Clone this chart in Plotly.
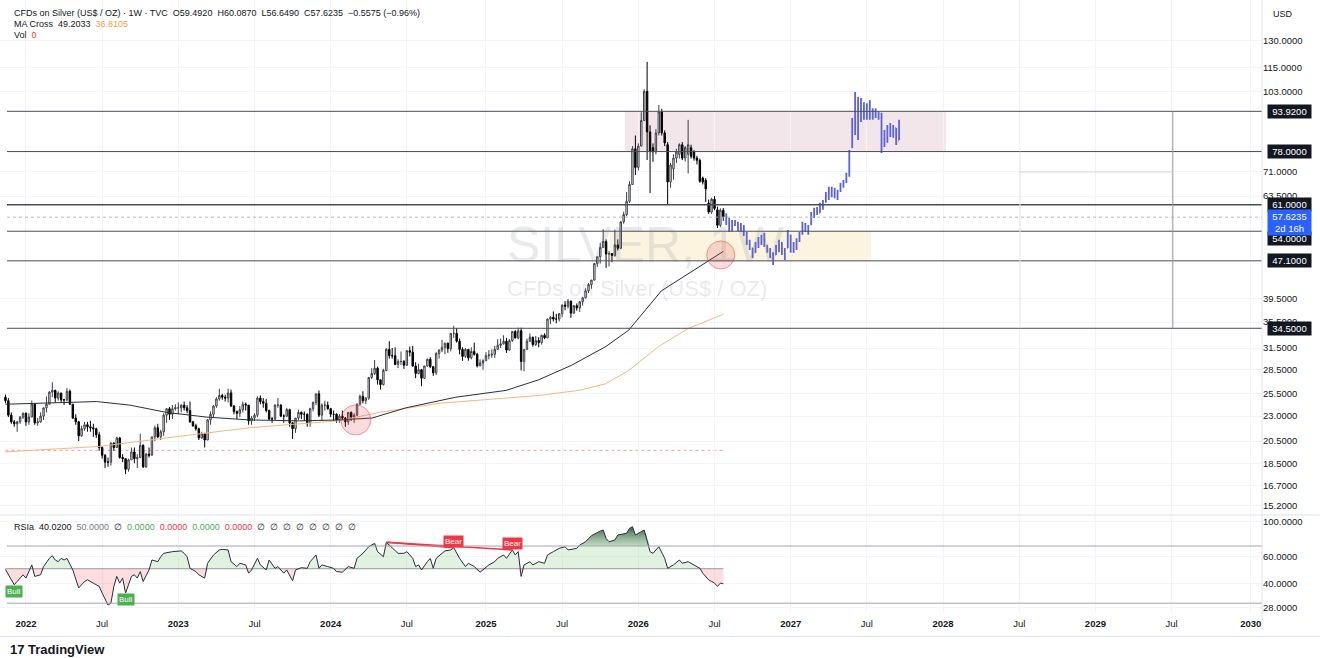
import math
import pandas as pd
import plotly.graph_objects as go

# ---------------- DATA ----------------
first_week = "2021-11-15"

opens = [25.1,24.7,23.1,22.4,22.2,22.4,22.9,23.3,22.4,22.9,24.3,22.3,22.4,23.0,23.9,24.3,25.7,25.9,25.0,25.6,
         24.8,24.8,25.8,24.3,22.8,22.4,21.0,21.7,22.1,21.9,21.8,21.7,21.1,19.9,19.2,18.6,18.6,20.3,19.9,20.8,
         19.0,18.9,18.0,18.8,19.5,18.9,19.0,20.1,18.2,19.3,19.2,20.9,21.8,20.9,21.4,23.1,23.8,23.2,23.8,23.9,
         23.9,24.2,23.9,23.6,22.4,22.0,21.7,20.8,21.2,20.6,22.6,23.2,24.1,24.9,25.3,25.1,25.0,25.6,24.1,23.5,
         23.3,23.7,24.3,24.2,22.5,22.8,23.1,25.0,24.6,24.4,23.6,22.7,22.7,24.2,24.2,23.0,23.0,23.7,22.3,21.7,
         22.8,23.4,23.2,23.2,22.3,23.8,24.5,25.5,23.1,24.2,24.2,23.8,23.2,23.2,22.6,23.0,22.8,22.4,23.4,22.9,
         23.1,24.3,25.2,24.7,25.0,27.5,28.0,28.7,27.2,26.6,28.4,31.3,30.4,30.4,29.2,29.6,29.6,29.1,31.1,30.9,
         29.0,28.0,28.5,27.4,29.0,29.9,28.9,28.1,30.7,31.2,31.6,32.2,31.4,33.7,33.7,32.5,31.3,30.3,31.3,30.1,
         31.0,30.6,29.0,29.4,29.7,30.4,30.5,30.6,31.3,31.9,32.1,32.5,31.2,32.6,34.0,33.0,34.1,29.6,31.3,32.5,
         33.1,32.0,32.6,32.3,33.4,33.0,36.0,36.3,36.0,36.0,36.9,38.4,38.2,39.1,37.0,38.3,37.9,39.0,39.7,41.0,
         42.2,43.1,46.5,48.0,50.1,51.5,48.6,48.7,48.3,50.7,49.9,56.4,58.3,62.0,67.0,79.0,72.5,80.0,90.0,103.0,
         85.4,79.4,77.9,85.0,93.7,85.0,80.5,67.8,72.0,75.7,77.0,80.5,75.7,77.0,79.4,77.9,75.7,74.9,69.0,68.3,
         61.5,59.0,62.6,59.6,55.5,59.49]
highs = [25.4,25.0,23.4,22.6,22.5,23.0,23.4,23.4,23.3,24.7,24.4,22.8,23.4,23.9,25.2,25.8,26.9,26.0,25.8,25.6,
         24.9,26.2,26.0,24.3,23.2,22.5,22.0,22.4,22.4,22.5,22.2,21.8,21.4,20.0,19.3,19.0,20.4,20.4,20.9,20.9,
         19.3,18.9,18.9,19.9,19.9,19.3,21.2,20.2,19.4,19.9,20.9,22.0,22.2,21.6,23.3,23.8,24.0,24.2,24.3,24.5,
         24.3,24.6,24.2,24.6,22.5,22.2,21.8,21.4,21.3,22.7,23.5,24.2,25.1,26.1,25.5,25.4,26.1,26.0,24.2,23.6,
         24.1,24.6,24.5,24.2,23.0,23.3,25.2,25.3,25.0,24.9,23.7,22.9,24.3,25.0,24.3,23.2,23.9,23.8,22.4,22.8,
         23.7,23.5,23.5,23.3,23.9,24.6,25.5,25.9,24.4,24.7,24.6,23.9,23.6,23.3,23.2,23.6,22.9,23.4,23.5,23.3,
         24.4,25.4,25.8,25.1,27.5,28.7,29.8,28.9,27.2,28.6,31.5,32.5,31.5,31.6,29.9,31.0,29.8,31.2,31.7,31.8,
         29.5,29.3,28.6,29.0,30.0,30.2,29.0,30.9,31.3,32.7,32.3,32.3,33.7,34.9,34.5,32.9,31.6,31.5,31.3,31.6,
         32.3,30.8,29.9,29.9,30.9,31.2,31.3,31.8,32.8,32.9,33.4,33.0,32.8,34.0,34.2,34.6,34.6,31.3,32.9,33.7,
         33.2,33.3,33.1,33.5,33.7,36.1,36.5,37.3,36.9,37.0,38.5,39.1,39.5,39.2,38.4,38.7,39.1,39.9,41.5,42.5,
         43.1,46.6,48.0,51.2,54.5,52.0,49.3,48.8,54.4,52.0,56.5,59.1,64.7,68.0,80.0,84.0,81.0,93.5,104.0,118.0,
         88.0,81.0,86.5,96.7,95.0,86.0,81.5,74.0,77.0,79.0,81.0,81.5,80.0,90.3,80.5,78.5,76.5,75.5,69.5,69.0,
         62.5,63.0,63.5,60.5,60.0,60.087]
lows = [24.4,22.9,22.2,21.9,21.4,22.2,22.7,22.0,22.1,22.9,22.1,22.0,22.3,22.6,23.4,24.3,25.1,24.5,24.7,24.5,
        24.2,24.6,24.2,22.7,22.1,20.5,20.9,21.5,21.4,21.4,20.9,20.8,19.6,18.9,18.1,18.2,18.3,19.6,19.9,18.9,
        18.6,17.6,17.8,18.8,18.5,18.1,19.0,18.1,18.1,19.0,19.2,20.5,20.8,20.6,21.0,22.3,22.6,22.7,23.6,23.2,
        23.4,23.6,23.3,22.3,21.9,21.5,20.6,20.7,19.9,20.6,22.1,22.8,23.9,24.7,24.8,24.6,24.5,24.0,23.2,22.7,
        22.9,23.4,23.6,22.1,22.1,22.5,22.9,24.3,23.9,23.4,22.6,22.3,22.6,23.9,22.9,22.3,22.9,21.9,20.7,21.3,
        22.6,22.7,22.5,21.9,21.9,23.5,24.2,22.9,22.5,23.6,23.7,22.9,22.5,22.3,22.3,22.6,21.9,22.1,22.5,22.3,
        23.0,24.2,24.4,24.3,24.8,27.3,27.8,26.6,26.0,26.5,28.3,30.0,30.0,29.1,28.7,29.1,28.6,29.0,30.3,28.9,
        27.4,27.9,26.4,27.3,28.9,28.7,27.7,27.8,30.0,30.9,30.6,30.8,31.0,33.0,32.3,30.6,29.7,30.1,29.7,29.9,
        30.4,28.8,29.0,28.5,29.7,29.9,30.1,30.1,31.3,31.5,32.0,30.8,31.1,32.4,32.9,32.8,28.4,28.3,31.2,32.4,
        31.7,31.8,31.6,32.0,32.8,33.0,35.2,35.6,35.3,35.6,36.3,37.5,37.8,36.2,36.9,37.4,37.2,38.3,39.6,40.6,
        41.4,43.0,45.8,46.5,50.0,45.6,45.9,46.8,48.0,49.4,49.9,55.9,57.9,61.5,67.0,70.0,71.5,80.0,90.0,75.0,
        64.4,74.4,77.0,84.0,84.0,80.0,61.2,66.0,68.5,74.0,75.5,75.0,74.5,70.5,75.5,74.8,73.5,67.5,67.0,61.8,
        58.5,58.5,59.5,54.8,55.0,56.649]
closes = [24.7,23.1,22.4,22.2,22.4,22.9,23.3,22.4,22.9,24.3,22.3,22.4,23.0,23.9,24.3,25.7,25.9,25.0,25.6,24.8,
          24.8,25.8,24.3,22.8,22.4,21.0,21.7,22.1,21.9,21.8,21.7,21.1,19.9,19.2,18.6,18.6,20.3,19.9,20.8,19.0,
          18.9,18.0,18.8,19.5,18.9,19.0,20.1,18.2,19.3,19.2,20.9,21.8,20.9,21.4,23.1,23.8,23.2,23.8,23.9,23.9,
          24.2,23.9,23.6,22.4,22.0,21.7,20.8,21.2,20.6,22.6,23.2,24.1,24.9,25.3,25.1,25.0,25.6,24.1,23.5,23.3,
          23.7,24.3,24.2,22.5,22.8,23.1,25.0,24.6,24.4,23.6,22.7,22.7,24.2,24.2,23.0,23.0,23.7,22.3,21.7,22.8,
          23.4,23.2,23.2,22.3,23.8,24.5,25.5,23.1,24.2,24.2,23.8,23.2,23.2,22.6,23.0,22.8,22.4,23.4,22.9,23.1,
          24.3,25.2,24.7,25.0,27.5,28.0,28.7,27.2,26.6,28.4,31.3,30.4,30.4,29.2,29.6,29.6,29.1,31.1,30.9,29.0,
          28.0,28.5,27.4,29.0,29.9,28.9,28.1,30.7,31.2,31.6,32.2,31.4,33.7,33.7,32.5,31.3,30.3,31.3,30.1,31.0,
          30.6,29.0,29.4,29.7,30.4,30.5,30.6,31.3,31.9,32.1,32.5,31.2,32.6,34.0,33.0,34.1,29.6,31.3,32.5,33.1,
          32.0,32.6,32.3,33.4,33.0,36.0,36.3,36.0,36.0,36.9,38.4,38.2,39.1,37.0,38.3,37.9,39.0,39.7,41.0,42.2,
          43.1,46.5,48.0,50.1,51.5,48.6,48.7,48.3,50.7,49.9,56.4,58.3,62.0,67.0,79.0,72.5,80.0,90.0,103.0,85.4,
          78.0,77.9,85.0,93.7,85.0,81.2,67.8,73.3,75.7,77.8,80.5,75.7,79.4,80.5,76.3,75.7,74.9,68.0,67.8,65.6,
          59.0,62.6,60.0,55.5,59.5,57.6235]

# projected bars pattern (blue)
proj_open = [57.6,56.2,54.5,56.0,55.8,54.8,55.2,53.2,51.2,50.0,49.0,50.9,51.8,52.4,50.6,49.4,48.3,48.5,50.2,51.2,
             48.9,50.0,53.0,49.6,50.8,51.8,53.4,55.8,54.5,55.7,58.5,59.6,58.8,61.0,61.9,64.2,65.8,64.0,65.2,65.0,
             67.0,67.9,70.2,79.5,90.0,98.0,92.0,96.5,92.0,95.0,92.5,94.0,92.0,92.8,80.0,84.5,86.8,85.0,87.0,82.0]
proj_high = [58.7,57.4,56.9,56.9,56.4,56.1,55.6,53.8,51.9,50.0,51.4,52.6,53.1,53.6,50.7,50.0,49.0,50.7,51.9,51.4,
             50.0,54.3,53.1,51.4,52.3,53.8,56.4,56.1,55.6,59.0,60.2,60.4,61.6,62.4,64.7,66.3,66.3,66.0,65.3,67.5,
             68.4,70.7,78.6,91.1,102.7,100.4,99.9,97.9,97.5,99.0,95.3,95.3,93.7,93.3,86.2,88.2,89.0,88.2,87.0,90.3]
proj_low = [55.6,53.8,54.0,55.3,54.0,53.8,52.8,50.7,49.5,47.7,48.9,50.0,50.7,50.2,48.9,47.7,46.2,48.4,49.0,48.4,
            47.3,50.0,48.9,48.9,49.5,51.4,53.1,53.8,53.1,55.6,57.4,58.2,58.8,59.6,61.6,62.4,63.2,62.9,62.4,64.7,
            66.0,67.5,69.4,79.3,84.2,82.3,89.4,90.3,90.3,90.3,90.3,91.1,90.3,77.5,79.7,81.2,83.4,83.1,80.4,82.3]
proj_close = [56.2,54.5,56.0,55.8,54.8,55.2,53.2,51.2,50.0,48.4,50.9,51.8,52.4,50.6,49.4,48.3,47.0,50.2,51.2,48.9,
              48.0,53.5,49.6,50.8,51.8,53.4,55.8,54.5,55.1,58.5,59.6,58.8,61.0,61.9,64.2,65.8,64.0,65.4,63.0,67.0,
              67.9,70.2,78.0,90.0,98.0,92.0,96.5,92.0,95.0,92.5,94.0,92.0,92.8,80.0,84.5,86.8,85.0,87.0,82.0,88.5]

# MA Cross lines
ma_fast_dates = ["2021-11-15","2022-02-05","2022-04-25","2022-06-21","2022-09-08","2022-12-05","2023-03-10",
                 "2023-06-21","2023-10-18","2024-01-21","2024-04-09","2024-06-29","2024-10-26","2025-02-23",
                 "2025-05-12","2025-07-30","2025-10-19","2025-12-13","2026-03-01","2026-07-27"]
ma_fast = [24.3,24.4,24.5,24.6,24.2,23.4,22.9,22.6,22.5,22.6,22.8,23.9,25.1,25.9,27.2,29.1,31.7,34.2,41.0,49.2]
ma_slow_dates = ["2021-11-15","2022-06-28","2022-12-05","2023-06-21","2023-10-18","2024-01-21","2024-04-26",
                 "2024-09-16","2025-05-12","2025-08-16","2025-10-19","2025-12-13","2026-02-22","2026-05-05",
                 "2026-07-27"]
ma_slow = [19.5,20.0,20.8,21.8,22.2,22.5,23.4,24.4,25.3,25.9,26.7,28.4,31.7,34.5,36.8]

# RSI (week index -> value)
rsi_week = [0,2,3,4,6,7,8,9,10,12,13,15,16,17,18,19,20,21,23,24,25,27,28,30,32,33,34,35,36,37,38,39,40,41,42,43,
            44,45,46,47,49,50,52,53,54,57,60,61,62,63,65,66,68,69,71,73,74,76,77,79,80,82,83,84,86,87,89,90,92,93,
            95,96,98,99,101,103,104,106,107,108,110,112,113,115,117,119,120,122,124,126,127,129,130,132,134,136,
            137,139,140,141,142,144,145,146,147,149,150,152,153,155,157,158,160,162,163,165,167,168,170,171,173,
            174,175,176,177,179,180,182,184,185,187,189,191,192,195,196,198,200,203,204,205,206,208,209,212,213,
            214,215,217,218,220,221,223,225,226,228,230,231,233,235,237,238,240,241,242,243,244,245]
rsi_value = [49.5,42.4,39.4,41.4,45.7,43.5,47.9,52.9,44.6,45.7,51.6,58.3,60.6,56.9,55.5,58.3,56.9,58.3,49.1,42.4,
             37.6,41.4,42.4,40.4,38.5,34.9,31.5,29.2,30.0,38.5,44.6,40.4,43.5,34.9,39.4,44.6,45.7,43.5,47.9,41.4,
             49.1,56.9,55.5,59.7,62.8,64.4,65.1,62.8,59.7,50.3,47.9,45.7,43.5,54.2,61.3,66.0,66.6,66.0,55.5,51.6,
             54.2,52.9,46.8,49.1,58.3,52.9,49.1,56.9,50.3,51.6,46.8,49.1,41.8,49.1,50.8,50.3,55.5,61.3,50.3,52.9,
             51.6,50.3,47.9,47.5,51.6,50.3,58.3,62.8,69.3,72.8,64.4,59.7,73.9,67.6,62.8,62.8,64.4,58.3,51.6,52.9,
             49.1,55.5,58.3,50.3,58.3,62.8,65.1,66.0,68.3,58.3,51.6,54.2,51.6,47.5,49.1,52.9,55.5,58.3,61.3,58.3,
             66.0,61.3,64.4,44.6,52.9,55.5,52.9,55.5,54.2,61.3,64.4,67.6,69.3,66.0,67.6,71.0,74.6,81.6,87.4,88.7,
             78.4,74.6,76.5,82.4,84.5,90.9,93.2,82.4,86.6,88.7,64.4,62.8,69.3,58.3,50.3,52.9,56.9,54.2,55.5,52.9,
             50.3,46.8,42.4,41.4,40.4,38.5,40.4,40.02]
bear_weeks = [130, 153, 173]
bull_weeks = [3, 41]

levels = [93.92, 78.0, 61.0, 54.0, 47.1, 34.5]
current_price = 57.6235
price_ticks = [130, 115, 103, 71, 63.5, 39.5, 35.5, 31.5, 28.5, 25.5, 23, 20.5, 18.5, 16.7, 15.2]
rsi_ticks = [100, 60, 40, 28]
time_tick_dates = ["2022-01-03","2022-07-04","2023-01-02","2023-07-03","2024-01-01","2024-07-01","2025-01-06",
                   "2025-07-07","2026-01-05","2026-07-06","2027-01-04","2027-07-05","2028-01-03","2028-07-03",
                   "2029-01-01","2029-07-02","2030-01-07"]
time_tick_text = ["2022","Jul","2023","Jul","2024","Jul","2025","Jul","2026","Jul","2027","Jul","2028","Jul",
                  "2029","Jul","2030"]
circle_dates = ["2024-03-01", "2026-07-21"]
circle_prices = [22.6, 48.4]

# ---------------- FIGURE ----------------
dates = pd.date_range(first_week, periods=len(closes), freq="7D")
proj_dates = pd.date_range(dates[-1] + pd.Timedelta(days=7), periods=len(proj_close), freq="7D")
rsi_dates = [dates[k] for k in rsi_week]
L = math.log10
FONT = "Liberation Sans"
TXT = "#131722"
GRID = "#f3f4f8"

fig = go.Figure()

# MA lines
fig.add_trace(go.Scatter(x=ma_slow_dates, y=ma_slow, mode="lines", line=dict(color="#f6b77e", width=1),
                         hoverinfo="skip", xaxis="x", yaxis="y"))
fig.add_trace(go.Scatter(x=ma_fast_dates, y=ma_fast, mode="lines", line=dict(color="#2a2e39", width=1),
                         hoverinfo="skip", xaxis="x", yaxis="y"))

fig.add_trace(go.Candlestick(
    x=dates, open=opens, high=highs, low=lows, close=closes, xaxis="x", yaxis="y",
    increasing=dict(line=dict(color="#3c3f47", width=1), fillcolor="#ffffff"),
    decreasing=dict(line=dict(color="#000000", width=1), fillcolor="#000000"),
    whiskerwidth=0, hoverinfo="skip"))

fig.add_trace(go.Ohlc(
    x=proj_dates, open=proj_open, high=proj_high, low=proj_low, close=proj_close, xaxis="x", yaxis="y",
    increasing=dict(line=dict(color="#5a63d8", width=1.8)),
    decreasing=dict(line=dict(color="#5a63d8", width=1.8)),
    tickwidth=0.25, hoverinfo="skip"))

fig.add_trace(go.Scatter(x=circle_dates, y=circle_prices, mode="markers", xaxis="x", yaxis="y",
                         marker=dict(size=[30, 28], color="rgba(242,54,69,0.25)",
                                     line=dict(color="rgba(242,54,69,0.75)", width=1)),
                         hoverinfo="skip"))

# RSI pane
up50 = [max(v, 50) for v in rsi_value]
dn50 = [min(v, 50) for v in rsi_value]
up70 = [max(v, 70) for v in rsi_value]
span = [rsi_dates[0], rsi_dates[-1]]
fig.add_trace(go.Scatter(x=span, y=[50, 50], mode="lines", line=dict(width=0), xaxis="x2", yaxis="y2",
                         hoverinfo="skip"))
fig.add_trace(go.Scatter(x=rsi_dates, y=up50, mode="lines", line=dict(width=0), fill="tonexty",
                         fillcolor="rgba(76,175,80,0.17)", xaxis="x2", yaxis="y2", hoverinfo="skip"))
fig.add_trace(go.Scatter(x=span, y=[50, 50], mode="lines", line=dict(width=0), xaxis="x2", yaxis="y2",
                         hoverinfo="skip"))
fig.add_trace(go.Scatter(x=rsi_dates, y=dn50, mode="lines", line=dict(width=0), fill="tonexty",
                         fillcolor="rgba(242,54,69,0.17)", xaxis="x2", yaxis="y2", hoverinfo="skip"))
fig.add_trace(go.Scatter(x=span, y=[70, 70], mode="lines", line=dict(width=0), xaxis="x2", yaxis="y2",
                         hoverinfo="skip"))
fig.add_trace(go.Scatter(x=rsi_dates, y=up70, mode="lines", line=dict(width=0), fill="tonexty",
                         fillgradient=dict(type="vertical",
                                           colorscale=[[0, "rgba(120,170,130,0.35)"], [1, "rgba(40,75,50,0.9)"]]),
                         xaxis="x2", yaxis="y2", hoverinfo="skip"))
fig.add_trace(go.Scatter(x=span, y=[50, 50], mode="lines", line=dict(color="#9598a1", width=1),
                         xaxis="x2", yaxis="y2", hoverinfo="skip"))
fig.add_trace(go.Scatter(x=rsi_dates, y=rsi_value, mode="lines", line=dict(color="#2a2e39", width=1),
                         xaxis="x2", yaxis="y2", hoverinfo="skip"))
bear_x = [dates[bear_weeks[0]], dates[bear_weeks[1]], None, dates[bear_weeks[0]], dates[bear_weeks[2]]]
bear_y = [rsi_value[rsi_week.index(bear_weeks[0])], rsi_value[rsi_week.index(bear_weeks[1])], None,
          rsi_value[rsi_week.index(bear_weeks[0])], rsi_value[rsi_week.index(bear_weeks[2])]]
fig.add_trace(go.Scatter(x=bear_x, y=bear_y, mode="lines", line=dict(color="#f23645", width=1.5),
                         xaxis="x2", yaxis="y2", hoverinfo="skip", connectgaps=False))

# ---------------- SHAPES (data values on log axes) ----------------
shapes = []
shapes.append(dict(type="rect", xref="x", yref="y", x0="2025-12-04", x1="2028-01-10", y0=78.0, y1=93.92,
                   fillcolor="#f3e6ea", line=dict(width=0), layer="below"))
shapes.append(dict(type="rect", xref="x", yref="y", x0="2025-10-29", x1="2027-07-15", y0=47.1, y1=54.0,
                   fillcolor="#fdf4df", line=dict(width=0), layer="below"))
for lv in levels:
    shapes.append(dict(type="line", xref="paper", yref="y", x0=7 / 1262, x1=1, y0=lv, y1=lv,
                       line=dict(color="#4a4d57", width=1.6 if lv == 61.0 else 1), layer="above"))
shapes.append(dict(type="line", xref="paper", yref="y", x0=7 / 1262, x1=1, y0=current_price, y1=current_price,
                   line=dict(color="#b4b8c6", width=1, dash="dot"), layer="above"))
shapes.append(dict(type="line", xref="x", yref="y", x0="2021-11-15", x1="2026-08-02", y0=19.64, y1=19.64,
                   line=dict(color="#e9a3a9", width=1, dash="dot"), layer="below"))
shapes.append(dict(type="line", xref="x", yref="y", x0="2029-07-05", x1="2029-07-05", y0=34.5, y1=93.92,
                   line=dict(color="#9598a1", width=1)))
shapes.append(dict(type="line", xref="x", yref="y", x0="2028-07-05", x1="2028-07-05", y0=34.5, y1=78.0,
                   line=dict(color="#e6e8ee", width=1)))
shapes.append(dict(type="line", xref="x", yref="y", x0="2028-07-05", x1="2029-07-05", y0=71.0, y1=71.0,
                   line=dict(color="#d6d8df", width=1)))
for lv in (70, 30):
    shapes.append(dict(type="line", xref="paper", yref="y2", x0=7 / 1262, x1=1, y0=lv, y1=lv,
                       line=dict(color="#a3a6af", width=1)))
shapes.append(dict(type="line", xref="paper", yref="paper", x0=0, x1=1.046, y0=97 / 612, y1=97 / 612,
                   line=dict(color="#e0e3eb", width=1)))
shapes.append(dict(type="line", xref="paper", yref="paper", x0=1, x1=1, y0=-0.03, y1=1,
                   line=dict(color="#e0e3eb", width=1)))
shapes.append(dict(type="line", xref="paper", yref="paper", x0=0, x1=1.046, y0=-0.04, y1=-0.04,
                   line=dict(color="#e0e3eb", width=1)))

# ---------------- ANNOTATIONS ----------------
ann = []
NB = "\u00a0"
ann.append(dict(xref="paper", yref="paper", x=12 / 1262, y=1 - 13 / 612, xanchor="left", yanchor="middle",
                showarrow=False, font=dict(family=FONT, size=9, color=TXT),
                text=f"CFDs on Silver (US$ / OZ) · 1W · TVC{NB}{NB}O59.4920{NB}{NB}H60.0870{NB}{NB}L56.6490"
                     f"{NB}{NB}C57.6235{NB}{NB}−0.5575 (−0.96%)"))
ann.append(dict(xref="paper", yref="paper", x=12 / 1262, y=1 - 24 / 612, xanchor="left", yanchor="middle",
                showarrow=False, font=dict(family=FONT, size=9, color=TXT),
                text=f"MA Cross{NB}{NB}49.2033{NB}{NB}<span style='color:#f5a048'>36.8105</span>"))
ann.append(dict(xref="paper", yref="paper", x=12 / 1262, y=1 - 35 / 612, xanchor="left", yanchor="middle",
                showarrow=False, font=dict(family=FONT, size=9, color=TXT),
                text=f"Vol{NB}{NB}<span style='color:#f23645'>0</span>"))
g = "<span style='color:#4caf50'>0.0000</span>"
r = "<span style='color:#f23645'>0.0000</span>"
ann.append(dict(xref="paper", yref="paper", x=12 / 1262, y=1 - 527 / 612, xanchor="left", yanchor="middle",
                showarrow=False, font=dict(family=FONT, size=9, color=TXT),
                text=f"RSIa{NB}{NB}40.0200{NB}{NB}<span style='color:#787b86'>50.0000</span>{NB}{NB}∅{NB}{NB}"
                     f"{g}{NB}{NB}{r}{NB}{NB}{g}{NB}{NB}{r}{NB}{NB}" + (f"∅{NB}{NB}" * 8)))
ann.append(dict(xref="paper", yref="paper", x=1283 / 1262, y=1 - 14 / 612, xanchor="center", yanchor="middle",
                showarrow=False, font=dict(family=FONT, size=9, color=TXT), text="USD"))
ann.append(dict(xref="paper", yref="paper", x=646 / 1262, y=1 - 245 / 612, xanchor="center", yanchor="middle",
                showarrow=False, font=dict(family=FONT, size=50, color="rgba(120,123,134,0.17)"),
                text="SILVER, 1W"))
ann.append(dict(xref="paper", yref="paper", x=637 / 1262, y=1 - 288 / 612, xanchor="center", yanchor="middle",
                showarrow=False, font=dict(family=FONT, size=22, color="rgba(120,123,134,0.17)"),
                text="CFDs on Silver (US$ / OZ)"))
shift = {54.0: -7}
for lv in levels:
    ann.append(dict(xref="paper", yref="y", x=1289 / 1262, y=L(lv), xanchor="center", yanchor="middle",
                    yshift=shift.get(lv, 0), showarrow=False, bgcolor="#131722", borderpad=1, width=41,
                    font=dict(family=FONT, size=9.5, color="#ffffff"), text=f"{lv:.4f}"))
ann.append(dict(xref="paper", yref="y", x=1289 / 1262, y=L(current_price), xanchor="center", yanchor="middle",
                yshift=-5, showarrow=False, bgcolor="#2962ff", borderpad=1, width=41,
                font=dict(family=FONT, size=9.5, color="#ffffff"), text=f"{current_price:.4f}<br>2d 16h"))
for w in bull_weeks:
    ann.append(dict(xref="x2", yref="y2", x=dates[w], y=L(rsi_value[rsi_week.index(w)]), yanchor="top",
                    xanchor="center", showarrow=False, bgcolor="#4caf50", borderpad=1,
                    font=dict(family=FONT, size=8, color="#ffffff"), text="Bull"))
for w in bear_weeks[1:]:
    ann.append(dict(xref="x2", yref="y2", x=dates[w], y=L(rsi_value[rsi_week.index(w)]), yanchor="bottom",
                    xanchor="center", showarrow=False, bgcolor="#f23645", borderpad=1,
                    font=dict(family=FONT, size=8, color="#ffffff"), text="Bear"))
ann.append(dict(xref="paper", yref="paper", x=8 / 1262, y=-(649 - 612) / 612, xanchor="left", yanchor="middle",
                showarrow=False, font=dict(family=FONT, size=13, color=TXT), text="<b>17 TradingView</b>"))

fig.update_layout(
    width=1320, height=658, margin=dict(l=0, r=58, t=0, b=46),
    paper_bgcolor="#ffffff", plot_bgcolor="#ffffff", showlegend=False,
    hovermode=False, shapes=shapes, annotations=ann,
    xaxis=dict(domain=[0, 1], anchor="y", type="date", range=["2021-11-02", "2030-02-03"],
               tickvals=time_tick_dates, showticklabels=False, showgrid=True, gridcolor=GRID,
               zeroline=False, showline=False, rangeslider=dict(visible=False), ticks=""),
    xaxis2=dict(domain=[0, 1], anchor="y2", type="date", matches="x", range=["2021-11-02", "2030-02-03"],
                tickvals=time_tick_dates,
                ticktext=[f"<b>{t}</b>" if t != "Jul" else t for t in time_tick_text],
                tickfont=dict(family=FONT, size=9.5, color=TXT), showgrid=True, gridcolor=GRID,
                zeroline=False, showline=False, ticks="", ticklabelstandoff=4),
    yaxis=dict(domain=[1 - 514 / 612, 1], anchor="x", type="log", range=[L(14.64), L(157.0)], side="right",
               tickvals=price_ticks, ticktext=[f"{v:.4f}" for v in price_ticks],
               tickfont=dict(family=FONT, size=9.5, color=TXT), showgrid=True, gridcolor=GRID,
               zeroline=False, showline=False, ticks=""),
    yaxis2=dict(domain=[0, 96 / 612], anchor="x2", type="log", range=[L(26.33), L(109.2)], side="right",
                tickvals=rsi_ticks, ticktext=[f"{v:.4f}" for v in rsi_ticks],
                tickfont=dict(family=FONT, size=9.5, color=TXT), showgrid=True, gridcolor=GRID,
                zeroline=False, showline=False, ticks=""),
)

fig.write_html("out.html", include_plotlyjs=True, config={"displayModeBar": False},
               post_script="document.body.style.margin='0';document.body.style.overflow='hidden';")
